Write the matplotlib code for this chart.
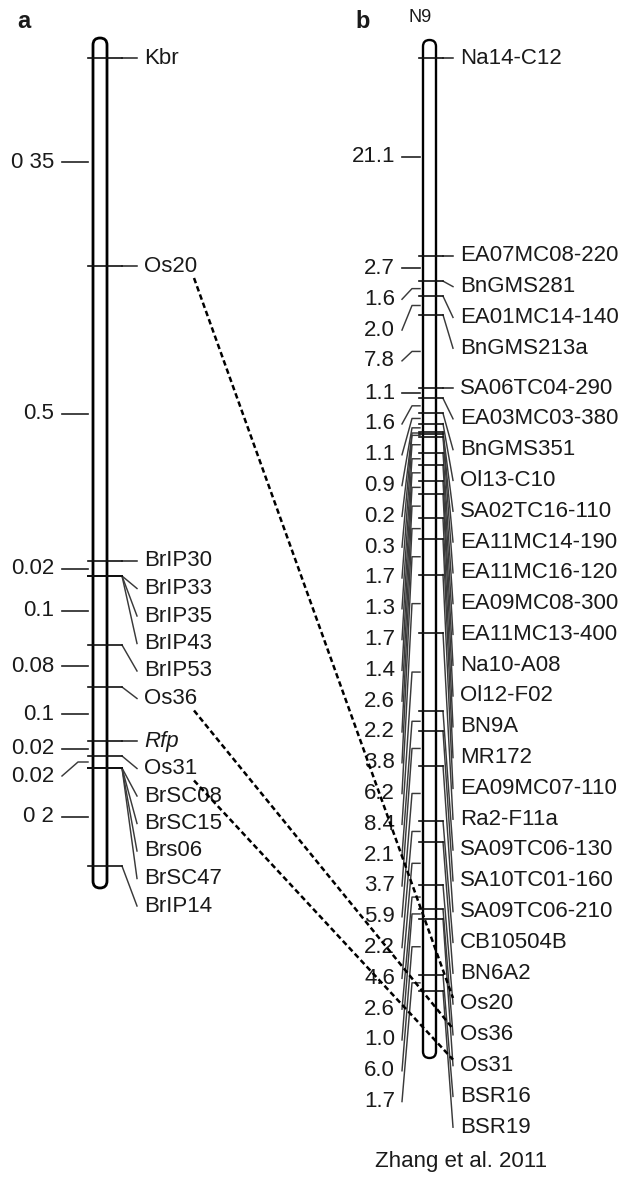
import matplotlib
matplotlib.use("Agg")
import matplotlib.pyplot as plt
from matplotlib.patches import FancyBboxPatch
import numpy as np

plt.rcParams['font.family'] = ['Liberation Sans', 'DejaVu Sans']

# ---------------- data ----------------
# Panel a: markers and their map positions (drawn map units, top marker = 0)
a_markers = ["Kbr", "Os20", "BrIP30", "BrIP33", "BrIP35", "BrIP43", "BrIP53",
             "Os36", "Rfp", "Os31", "BrSC08", "BrSC15", "Brs06", "BrSC47", "BrIP14"]
a_positions = [0, 208, 503, 518, 518, 518, 587, 629, 683, 698, 710, 710, 710, 710, 808]
a_interval_labels = ["0 35", "0.5", "0.02", "0.1", "0.08", "0.1", "0.02", "0.02", "0 2"]

# Panel b: N9 linkage group (Zhang et al. 2011), intervals in cM
b_markers = ["Na14-C12", "EA07MC08-220", "BnGMS281", "EA01MC14-140", "BnGMS213a",
             "SA06TC04-290", "EA03MC03-380", "BnGMS351", "Ol13-C10", "SA02TC16-110",
             "EA11MC14-190", "EA11MC16-120", "EA09MC08-300", "EA11MC13-400", "Na10-A08",
             "Ol12-F02", "BN9A", "MR172", "EA09MC07-110", "Ra2-F11a", "SA09TC06-130",
             "SA10TC01-160", "SA09TC06-210", "CB10504B", "BN6A2", "Os20", "Os36", "Os31",
             "BSR16", "BSR19"]
b_intervals = [21.1, 2.7, 1.6, 2.0, 7.8, 1.1, 1.6, 1.1, 0.9, 0.2, 0.3, 1.7, 1.3, 1.7,
               1.4, 2.6, 2.2, 3.8, 6.2, 8.4, 2.1, 3.7, 5.9, 2.2, 4.6, 2.6, 1.0, 6.0, 1.7]
b_interval_labels = [f"{v:.1f}" for v in b_intervals]
shared_markers = ["Os20", "Os36", "Os31"]

# ---------------- layout ----------------
W, H = 636, 1177
fig = plt.figure(figsize=(W / 100, H / 100), dpi=100)
ax = fig.add_axes([0, 0, 1, 1])
ax.set_xlim(0, W)
ax.set_ylim(H, 0)
ax.axis('off')

FS = 16
TXT = '#1a1a1a'
CONN = '#3a3a3a'


def spread(desired, gap):
    out = []
    for d in desired:
        out.append(d if not out else max(d, out[-1] + gap))
    return out


def draw_map(ys, names, int_labels, L):
    xl, cw = L['chrom_x'], L['chrom_w']
    chrom = FancyBboxPatch((xl, L['top']), cw, L['bottom'] - L['top'],
                           boxstyle=f"round,pad=0,rounding_size={cw / 2}",
                           fc='white', ec='black', lw=L['chrom_lw'], zorder=3)
    ax.add_patch(chrom)
    # marker labels
    lab_y = spread(list(ys), L['gap'])
    for y, ly, nm in zip(ys, lab_y, names):
        ax.plot([L['tick_l'], L['tick_r']], [y, y], color='#111', lw=1.2, zorder=4)
        if abs(ly - y) < 0.5:
            ax.plot([L['tick_r'], L['bend']], [y, y], color='#222', lw=1.1, zorder=2)
        else:
            ax.plot([L['tick_r'], L['bend']], [y, ly], color=CONN, lw=1.05, zorder=2)
        style = 'italic' if nm == 'Rfp' else 'normal'
        ax.text(L['text_x'], ly, nm, ha='left', va='center', fontsize=FS,
                color=TXT, style=style, zorder=5)
    # interval labels on the left
    uniq = sorted(set(ys))
    mids = [(uniq[i] + uniq[i + 1]) / 2 for i in range(len(uniq) - 1)]
    ilab_y = spread(mids, L['gap'])
    for m, ly, s in zip(mids, ilab_y, int_labels):
        if abs(ly - m) < 0.5:
            ax.plot([L['itick_l'], L['itick_r']], [m, m], color='#222', lw=1.2, zorder=2)
        else:
            ax.plot([L['itick_l'], L['islant'], L['itick_r']], [ly, m, m],
                    color=CONN, lw=1.05, zorder=2)
        ax.text(L['itext_x'], ly, s, ha='right', va='center', fontsize=FS,
                color=TXT, zorder=5)
    return lab_y


layout_a = dict(chrom_x=93, chrom_w=14, top=38, bottom=888, chrom_lw=2.0,
                tick_l=88, tick_r=122, bend=137, text_x=144,
                itick_l=62, islant=78, itick_r=88, itext_x=54, gap=27.5)
layout_b = dict(chrom_x=423, chrom_w=13, top=40, bottom=1058, chrom_lw=1.7,
                tick_l=419, tick_r=443, bend=453, text_x=460,
                itick_l=402, islant=412, itick_r=420, itext_x=395, gap=30.8)

ys_a = [58 + p for p in a_positions]
b_cm = np.concatenate([[0.0], np.cumsum(b_intervals)])
ys_b = list(58 + b_cm * 9.375)

lab_a = draw_map(ys_a, a_markers, a_interval_labels, layout_a)
lab_b = draw_map(ys_b, b_markers, b_interval_labels, layout_b)

# dashed homology links between shared markers
for nm in shared_markers:
    ia, ib = a_markers.index(nm), b_markers.index(nm)
    x0, y0 = layout_a['text_x'] + 50, lab_a[ia] + 12
    x1, y1 = layout_b['text_x'] - 7, lab_b[ib] - 6
    ax.plot([x0, x1], [y0, y1], color='black', lw=1.8, ls=(0, (2.2, 1.3)), zorder=6)

# panel titles and source
ax.text(17, 22, 'a', fontsize=17, fontweight='bold', va='center', ha='left', color=TXT)
ax.text(355, 21, 'b', fontsize=17, fontweight='bold', va='center', ha='left', color=TXT)
ax.text(420, 17, 'N9', fontsize=13, va='center', ha='center', color=TXT)
ax.text(461, 1162, 'Zhang et al. 2011', fontsize=FS, va='center', ha='center', color=TXT)

fig.savefig('out.png', dpi=100)
